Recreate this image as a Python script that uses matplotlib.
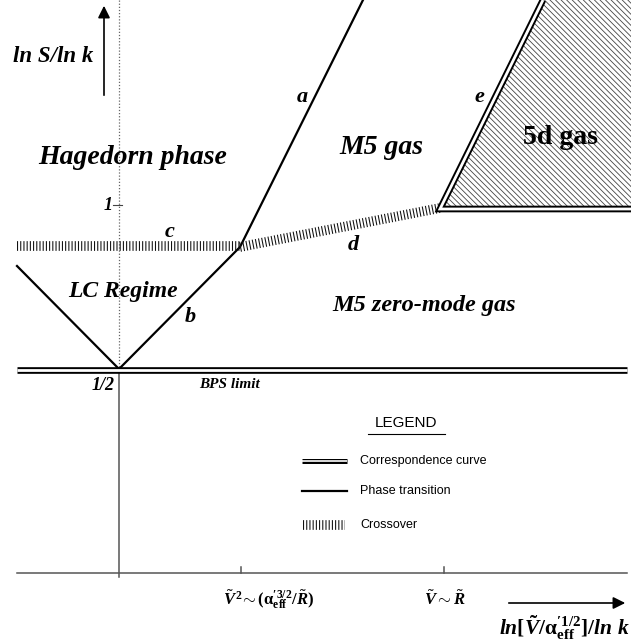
import numpy as np
import matplotlib.pyplot as plt
from matplotlib.patches import Polygon

plt.rcParams['mathtext.fontset'] = 'custom'
plt.rcParams['mathtext.rm'] = 'Liberation Serif:bold'
plt.rcParams['mathtext.it'] = 'Liberation Serif:bold:italic'
plt.rcParams['mathtext.bf'] = 'Liberation Serif:bold'
plt.rcParams['hatch.linewidth'] = 0.6

# diagram coordinates (x to the right, y downwards, 0..631 / 0..643)
axis_x = 119
axis_top, bps_y, axis_bottom = 0, 369.5, 577
xaxis_y = 573
xaxis_left, xaxis_right = 17, 627
xticks_pos = [241, 444]
xtick_labels = [r"$\tilde{V}^{\,2}\!\sim(\mathrm{\alpha}^{\prime 3/2}_{\mathrm{eff}}/\tilde{R})$",
                r"$\tilde{V}\sim\tilde{R}$"]
ytick_pos = 205

# phase transition lines
left_branch_x = [17, 119]
left_branch_y = [266, 369]
b_x = [119, 240]
b_y = [369, 247]
a_x = [240, 363]
a_y = [247, 0]

# crossovers
c_x = [17, 240]
c_y = [246, 246]
d_x = [240, 440]
d_y = [247, 208]

# 5d gas region and its correspondence curve
gas5d_x = [440, 543, 631, 631]
gas5d_y = [209, 0, 0, 209]
e_x = [631, 440, 543]
e_y = [209, 209, 0]

# region labels: (text, x, y, size, style)
labels = [
    ("Hagedorn phase", 133, 157, 20, 'italic'),
    ("M5 gas", 381, 147, 20, 'italic'),
    ("5d gas", 560, 138, 20, 'normal'),
    ("LC Regime", 123, 292, 17, 'italic'),
    ("M5 zero-mode gas", 424, 306, 17.5, 'italic'),
    ("a", 302, 97, 16, 'italic'),
    ("b", 190, 317, 16, 'italic'),
    ("c", 170, 232, 16, 'italic'),
    ("d", 353, 245, 16, 'italic'),
    ("e", 479, 97, 16, 'italic'),
    ("1", 108, 205, 13, 'italic'),
    ("1/2", 103, 385, 13, 'italic'),
    ("BPS limit", 230, 385, 11, 'italic'),
    ("ln S/ln k", 53, 57, 16.5, 'italic'),
]

legend_names = ["Correspondence curve", "Phase transition", "Crossover"]
legend_y = [461, 491, 525]


def double_line(ax, x, y, outer=4.8, inner=2.0):
    ax.plot(x, y, color='black', lw=outer, solid_capstyle='butt', solid_joinstyle='miter')
    ax.plot(x, y, color='white', lw=inner, solid_capstyle='butt', solid_joinstyle='miter')


def crossover(ax, x, y, lw=7):
    ln, = ax.plot(x, y, color='#111111', lw=lw, solid_capstyle='butt')
    ln.set_dashes([0.11, 0.22])
    ln.set_dash_capstyle('butt')


fig = plt.figure(figsize=(6.31, 6.43), dpi=100)
ax = fig.add_axes([0, 0, 1, 1])
ax.set_xlim(0, 631)
ax.set_ylim(643, 0)
ax.axis('off')

# 5d gas region
poly = Polygon(np.column_stack([gas5d_x, gas5d_y]), closed=True, facecolor='white',
               edgecolor='#444444', hatch='\\\\\\\\\\\\', lw=0)
ax.add_patch(poly)

# axes
ax.plot([axis_x, axis_x], [axis_top, bps_y], color='#666666', lw=0.9, ls=(0, (1, 1.5)))
ax.plot([axis_x, axis_x], [bps_y, axis_bottom], color='#555555', lw=1.1)
ax.plot([xaxis_left, xaxis_right], [xaxis_y, xaxis_y], color='#555555', lw=1.1)
for xt, lab in zip(xticks_pos, xtick_labels):
    ax.plot([xt, xt], [xaxis_y - 6, xaxis_y], color='#555555', lw=1.1)
    ax.text(xt + (28 if xt == xticks_pos[0] else 1), 600, lab, ha='center', va='center', fontsize=12)
ax.plot([axis_x - 6, axis_x + 3], [ytick_pos, ytick_pos], color='#444444', lw=0.8)

# lines
ax.plot(left_branch_x, left_branch_y, color='black', lw=1.6)
ax.plot(b_x + a_x[1:], b_y + a_y[1:], color='black', lw=1.6)
crossover(ax, c_x, c_y)
crossover(ax, d_x, d_y)
double_line(ax, [xaxis_left, xaxis_right], [bps_y, bps_y])
double_line(ax, e_x, e_y)

# arrows
ax.annotate('', xy=(104, 3), xytext=(104, 98),
            arrowprops=dict(arrowstyle='-|>', color='black', lw=1.2, mutation_scale=18))
ax.annotate('', xy=(628, 603), xytext=(506, 603),
            arrowprops=dict(arrowstyle='-|>', color='black', lw=1.2, mutation_scale=18))
ax.text(564, 628, r"$ln[\tilde{V}/\mathrm{\alpha}^{\prime 1/2}_{\mathrm{eff}}]/ln\ k$",
        ha='center', va='center', fontsize=15.5)

for txt, x, y, fs, st in labels:
    ax.text(x, y, txt, ha='center', va='center', fontsize=fs, fontweight='bold',
            fontstyle=st, family='Liberation Serif')

# legend
ax.text(406, 423, "LEGEND", ha='center', va='center', fontsize=11, family='Liberation Sans')
ax.plot([368, 445], [434, 434], color='black', lw=0.8)
double_line(ax, [302, 347], [legend_y[0]] * 2, outer=3.6, inner=1.2)
ax.plot([302, 347], [legend_y[1]] * 2, color='black', lw=1.6)
crossover(ax, [303, 345], [legend_y[2]] * 2)
for nm, yy in zip(legend_names, legend_y):
    ax.text(360, yy, nm, ha='left', va='center', fontsize=9, family='Liberation Sans')

fig.savefig('out.png', dpi=100)
